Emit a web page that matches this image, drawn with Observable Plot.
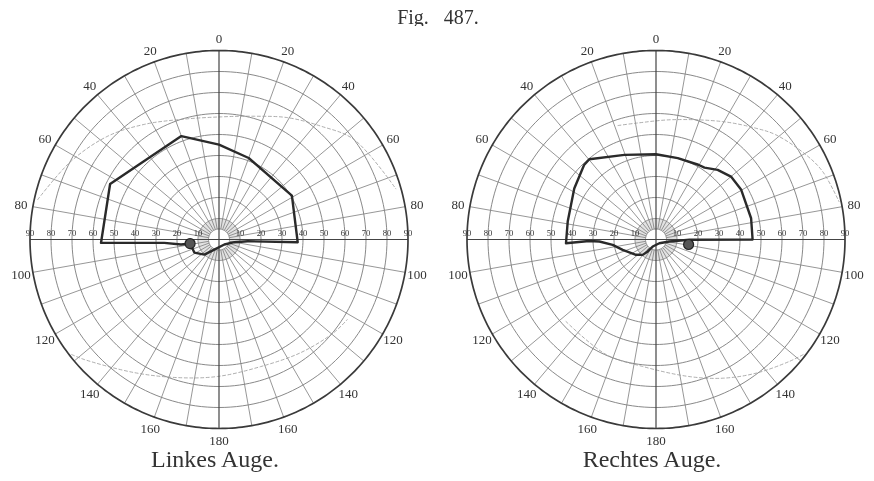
<!DOCTYPE html>
<html>
<head>
<meta charset="utf-8">
<script src="https://cdn.jsdelivr.net/npm/d3@7"></script>
<script src="https://cdn.jsdelivr.net/npm/@observablehq/plot@0.6"></script>
<style>
  body { margin: 0; background: #fff; }
  #title { height: 26px; box-sizing: border-box; padding-top: 8px; line-height: 19px;
           font-family: "Liberation Serif", "DejaVu Serif", serif; font-size: 20px;
           text-align: center; color: #333; word-spacing: 10px; padding-left: 2px;
           filter: grayscale(1); }
  #chart { filter: grayscale(1); }
  svg { display: block; }
</style>
</head>
<body>
<div id="title">Fig. 487.</div>
<div id="chart"></div>
<script>
// ---------- data ----------
const eyes = ["Linkes Auge.", "Rechtes Auge."];
const angleLabels = [0, 20, 40, 60, 80, 100, 120, 140, 160, 180];
const eccLabels = [10, 20, 30, 40, 50, 60, 70, 80, 90];
const ringEcc = [5, 10, 20, 30, 40, 50, 60, 70, 80];

// field boundary (meridian angle in degrees clockwise from top, eccentricity in degrees)
const leftFieldAngle = [268.4, 297, 340, 0, 20, 59, 92, 93.4, 100, 133, 205, 224, 242, 262, 262.5, 266.5, 268.4];
const leftFieldEcc   = [56.2, 58.2, 52.4, 45.2, 41.3, 40.5, 37.5, 13.7, 7.4, 3.5, 5.3, 10, 13.3, 13.9, 18.2, 26.1, 56.2];
const rightFieldAngle = [267.6, 281.5, 302, 316, 320.3, 339.5, 0, 15, 29.5, 34, 41.5, 50, 59.5, 77.4, 90, 90.5, 98.5, 138, 205, 214.7, 221, 232.6, 252.8, 263, 268, 268.7, 267.6];
const rightFieldEcc   = [42.9, 42.9, 45.9, 49.3, 49.7, 43, 40.6, 40.1, 40.9, 41.3, 44.3, 46.6, 47, 46.4, 46, 16, 6.4, 2.4, 3.7, 6.9, 9.7, 12, 16.6, 20.8, 27, 31.9, 42.9];

// blind spots
const blindAngle = [262, 98.7];
const blindEcc = [13.9, 15.7];

// dotted reference limits
const leftUpperAngle = [282.4, 297.9, 312.9, 326.9, 342.4, 0.9, 15.8, 29.4, 42, 53.5, 74];
const leftUpperEcc   = [88.4, 79.7, 72.3, 65.4, 60, 58.4, 61, 66.6, 72.6, 80, 87.6];
const leftLowerAngle = [232, 228.4, 212.6, 196.5, 180.4, 161.7, 144, 129, 122];
const leftLowerEcc   = [89, 86, 75.2, 68.6, 65.2, 63.7, 66.5, 70.4, 72];
const rightUpperAngle = [341.6, 350.2, 7.9, 29.5, 41.9, 48.9, 60.5, 67.8, 78.3];
const rightUpperEcc   = [57.2, 56.2, 57.6, 64.5, 71.2, 75.8, 82, 85.7, 89];
const rightLowerAngle = [227.7, 203.5, 186, 166.5, 154.3, 143.2, 132.5, 128];
const rightLowerEcc   = [58, 59.7, 60.8, 67.1, 73.3, 79.5, 86, 89];

// ---------- helpers ----------
const rad = Math.PI / 180;
const px = (a, e) => e * Math.sin(a * rad);
const py = (a, e) => e * Math.cos(a * rad);
const LABEL_R = 95.7;

const fieldA = [leftFieldAngle, rightFieldAngle];
const fieldE = [leftFieldEcc, rightFieldEcc];
const dashSets = [
  [[leftUpperAngle, leftUpperEcc], [leftLowerAngle, leftLowerEcc]],
  [[rightUpperAngle, rightUpperEcc], [rightLowerAngle, rightLowerEcc]]
];

const rings = [], shade = [], outer = [], radials = [], axes = [], field = [], dashes = [], blind = [], aLab = [], eLab = [];
eyes.forEach((eye, i) => {
  for (const r of ringEcc)
    for (let a = 0; a <= 360; a += 2) rings.push({eye, ring: r, x: px(a, r), y: py(a, r)});
  for (let a = 0; a <= 360; a += 3) shade.push({eye, x: px(a, 7.5), y: py(a, 7.5)});
  for (let a = 0; a <= 360; a += 1) outer.push({eye, x: px(a, 90), y: py(a, 90)});
  for (let a = 0; a < 360; a += 10) {
    if (a % 90 === 0) continue;
    radials.push({eye, x1: px(a, 5), y1: py(a, 5), x2: px(a, 90), y2: py(a, 90)});
  }
  for (const a of [0, 90]) axes.push({eye, x1: px(a, 90), y1: py(a, 90), x2: -px(a, 90), y2: -py(a, 90)});
  fieldA[i].forEach((a, j) => field.push({eye, x: px(a, fieldE[i][j]), y: py(a, fieldE[i][j])}));
  dashSets[i].forEach(([A, E], k) => A.forEach((a, j) => dashes.push({eye, k, x: px(a, E[j]), y: py(a, E[j])})));
  blind.push({eye, x: px(blindAngle[i], blindEcc[i]), y: py(blindAngle[i], blindEcc[i])});
  for (const L of angleLabels) {
    aLab.push({eye, text: String(L), x: px(L, LABEL_R), y: py(L, LABEL_R)});
    if (L !== 0 && L !== 180) aLab.push({eye, text: String(L), x: px(360 - L, LABEL_R), y: py(360 - L, LABEL_R)});
  }
  for (const E of eccLabels) {
    eLab.push({eye, text: String(E), x: -E, y: 0});
    eLab.push({eye, text: String(E), x: E, y: 0});
  }
});

const K = 2.1; // px per degree
const W = 874, H = 455, CY = 213;
const chart = Plot.plot({
  width: W, height: H, margin: 0,
  style: {fontFamily: '"Liberation Serif", "DejaVu Serif", serif', background: "#fff"},
  fx: {domain: eyes, padding: 0, axis: null},
  x: {domain: [-(W / 4) / K, (W / 4) / K], axis: null},
  y: {domain: [-(H - CY) / K, CY / K], axis: null},
  marks: [
    Plot.line(shade, {fx: "eye", x: "x", y: "y", stroke: "#e2e2e2", strokeWidth: 10}),
    Plot.link(radials, {fx: "eye", x1: "x1", y1: "y1", x2: "x2", y2: "y2", stroke: "#7c7c7c", strokeWidth: 0.8}),
    Plot.line(rings, {fx: "eye", x: "x", y: "y", z: "ring", stroke: "#7c7c7c", strokeWidth: 0.9}),
    Plot.line(dashes, {fx: "eye", x: "x", y: "y", z: "k", curve: "catmull-rom", stroke: "#999", strokeWidth: 0.8, strokeDasharray: "3,2.5"}),
    Plot.link(axes, {fx: "eye", x1: "x1", y1: "y1", x2: "x2", y2: "y2", stroke: "#444", strokeWidth: 1.2}),
    Plot.line(outer, {fx: "eye", x: "x", y: "y", stroke: "#3a3a3a", strokeWidth: 1.7}),
    Plot.line(field, {fx: "eye", x: "x", y: "y", stroke: "#2a2a2a", strokeWidth: 2.4, strokeLinejoin: "round"}),
    Plot.dot(blind, {fx: "eye", x: "x", y: "y", r: 5, fill: "#555", stroke: "#222", strokeWidth: 1.2}),
    Plot.text(aLab, {fx: "eye", x: "x", y: "y", text: "text", fontSize: 13, fill: "#333"}),
    Plot.text(eLab, {fx: "eye", x: "x", y: "y", text: "text", fontSize: 8.5, fill: "#333", dy: -6}),
    Plot.text(eyes, {fx: d => d, text: d => d, frameAnchor: "bottom", lineAnchor: "middle", dy: -22, dx: -4, fontSize: 24, fill: "#333"})
  ]
});
document.getElementById("chart").appendChild(chart);
</script>
</body>
</html>
